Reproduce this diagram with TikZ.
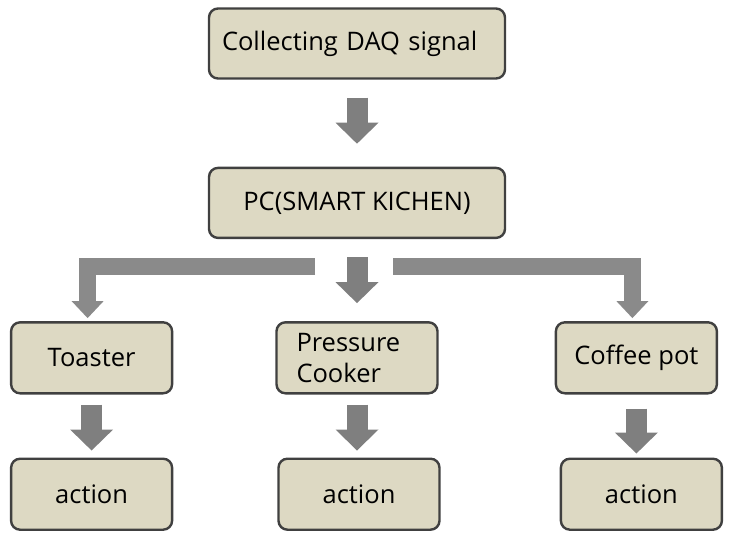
\documentclass[tikz,border=0pt]{standalone}
\usepackage{fontspec}
\setmainfont{Open Sans}
\usetikzlibrary{arrows.meta,positioning}
\definecolor{boxfill}{HTML}{DDD9C3}
\definecolor{boxline}{HTML}{404040}
\definecolor{arrowgray}{HTML}{7F7F7F}
\definecolor{bargray}{HTML}{8A8A8A}
\tikzset{
  box/.style={draw=boxline, line width=2.4pt, fill=boxfill, rounded corners=9pt,
    font=\fontsize{25.5}{31}\selectfont, minimum width=161pt, minimum height=71pt, inner sep=0pt},
  widebox/.style={box, minimum width=296pt, minimum height=70pt},
  flow/.style={draw=arrowgray, line width=21pt, -{Triangle[length=21pt,width=43pt,line width=0pt]}},
  branch/.style={draw=bargray, line width=17pt, -{Triangle[length=17pt,width=32pt,line width=0pt]}}
}
\begin{document}
\begin{tikzpicture}[x=1pt,y=1pt]
\useasboundingbox (0,0) rectangle (731,-538);
% upper chain
\node (daq) [widebox, align=left, text width=270pt] at (357,-43.5) {Collecting DAQ signal};
\node (pc) [widebox, below=87pt of daq] {PC(SMART KICHEN)};
% appliances
\node (cooker) [box, below=82pt of pc, align=left, text width=121pt] {Pressure\\Cooker};
\node (toaster) [box, left=102pt of cooker] {Toaster};
\node (coffee) [box, right=116pt of cooker] {Coffee pot};
% actions
\node (act1) [box, below=63pt of toaster] {action};
\node (act2) [box, below=63pt of cooker, xshift=2pt] {action};
\node (act3) [box, below=63pt of coffee, xshift=5pt] {action};
% arrows
\draw[flow, shorten <=18pt, shorten >=23pt] (daq.south) -- (pc.north);
\draw[flow, shorten <=18pt, shorten >=18pt] (pc.south) -- (pc.south |- cooker.north);
\draw[branch, shorten >=3pt] ([xshift=-42pt,yshift=-27.5pt]pc.south) -| ([xshift=-4pt]toaster.north);
\draw[branch, shorten >=3pt] ([xshift=36pt,yshift=-27.5pt]pc.south) -| ([xshift=-4pt]coffee.north);
\draw[flow, shorten <=10pt, shorten >=7pt] (toaster.south) -- (toaster.south |- act1.north);
\draw[flow, shorten <=10pt, shorten >=7pt] (cooker.south) -- (cooker.south |- act2.north);
\draw[flow, shorten <=14pt, shorten >=4pt] (coffee.south) -- (coffee.south |- act3.north);
\end{tikzpicture}
\end{document}
